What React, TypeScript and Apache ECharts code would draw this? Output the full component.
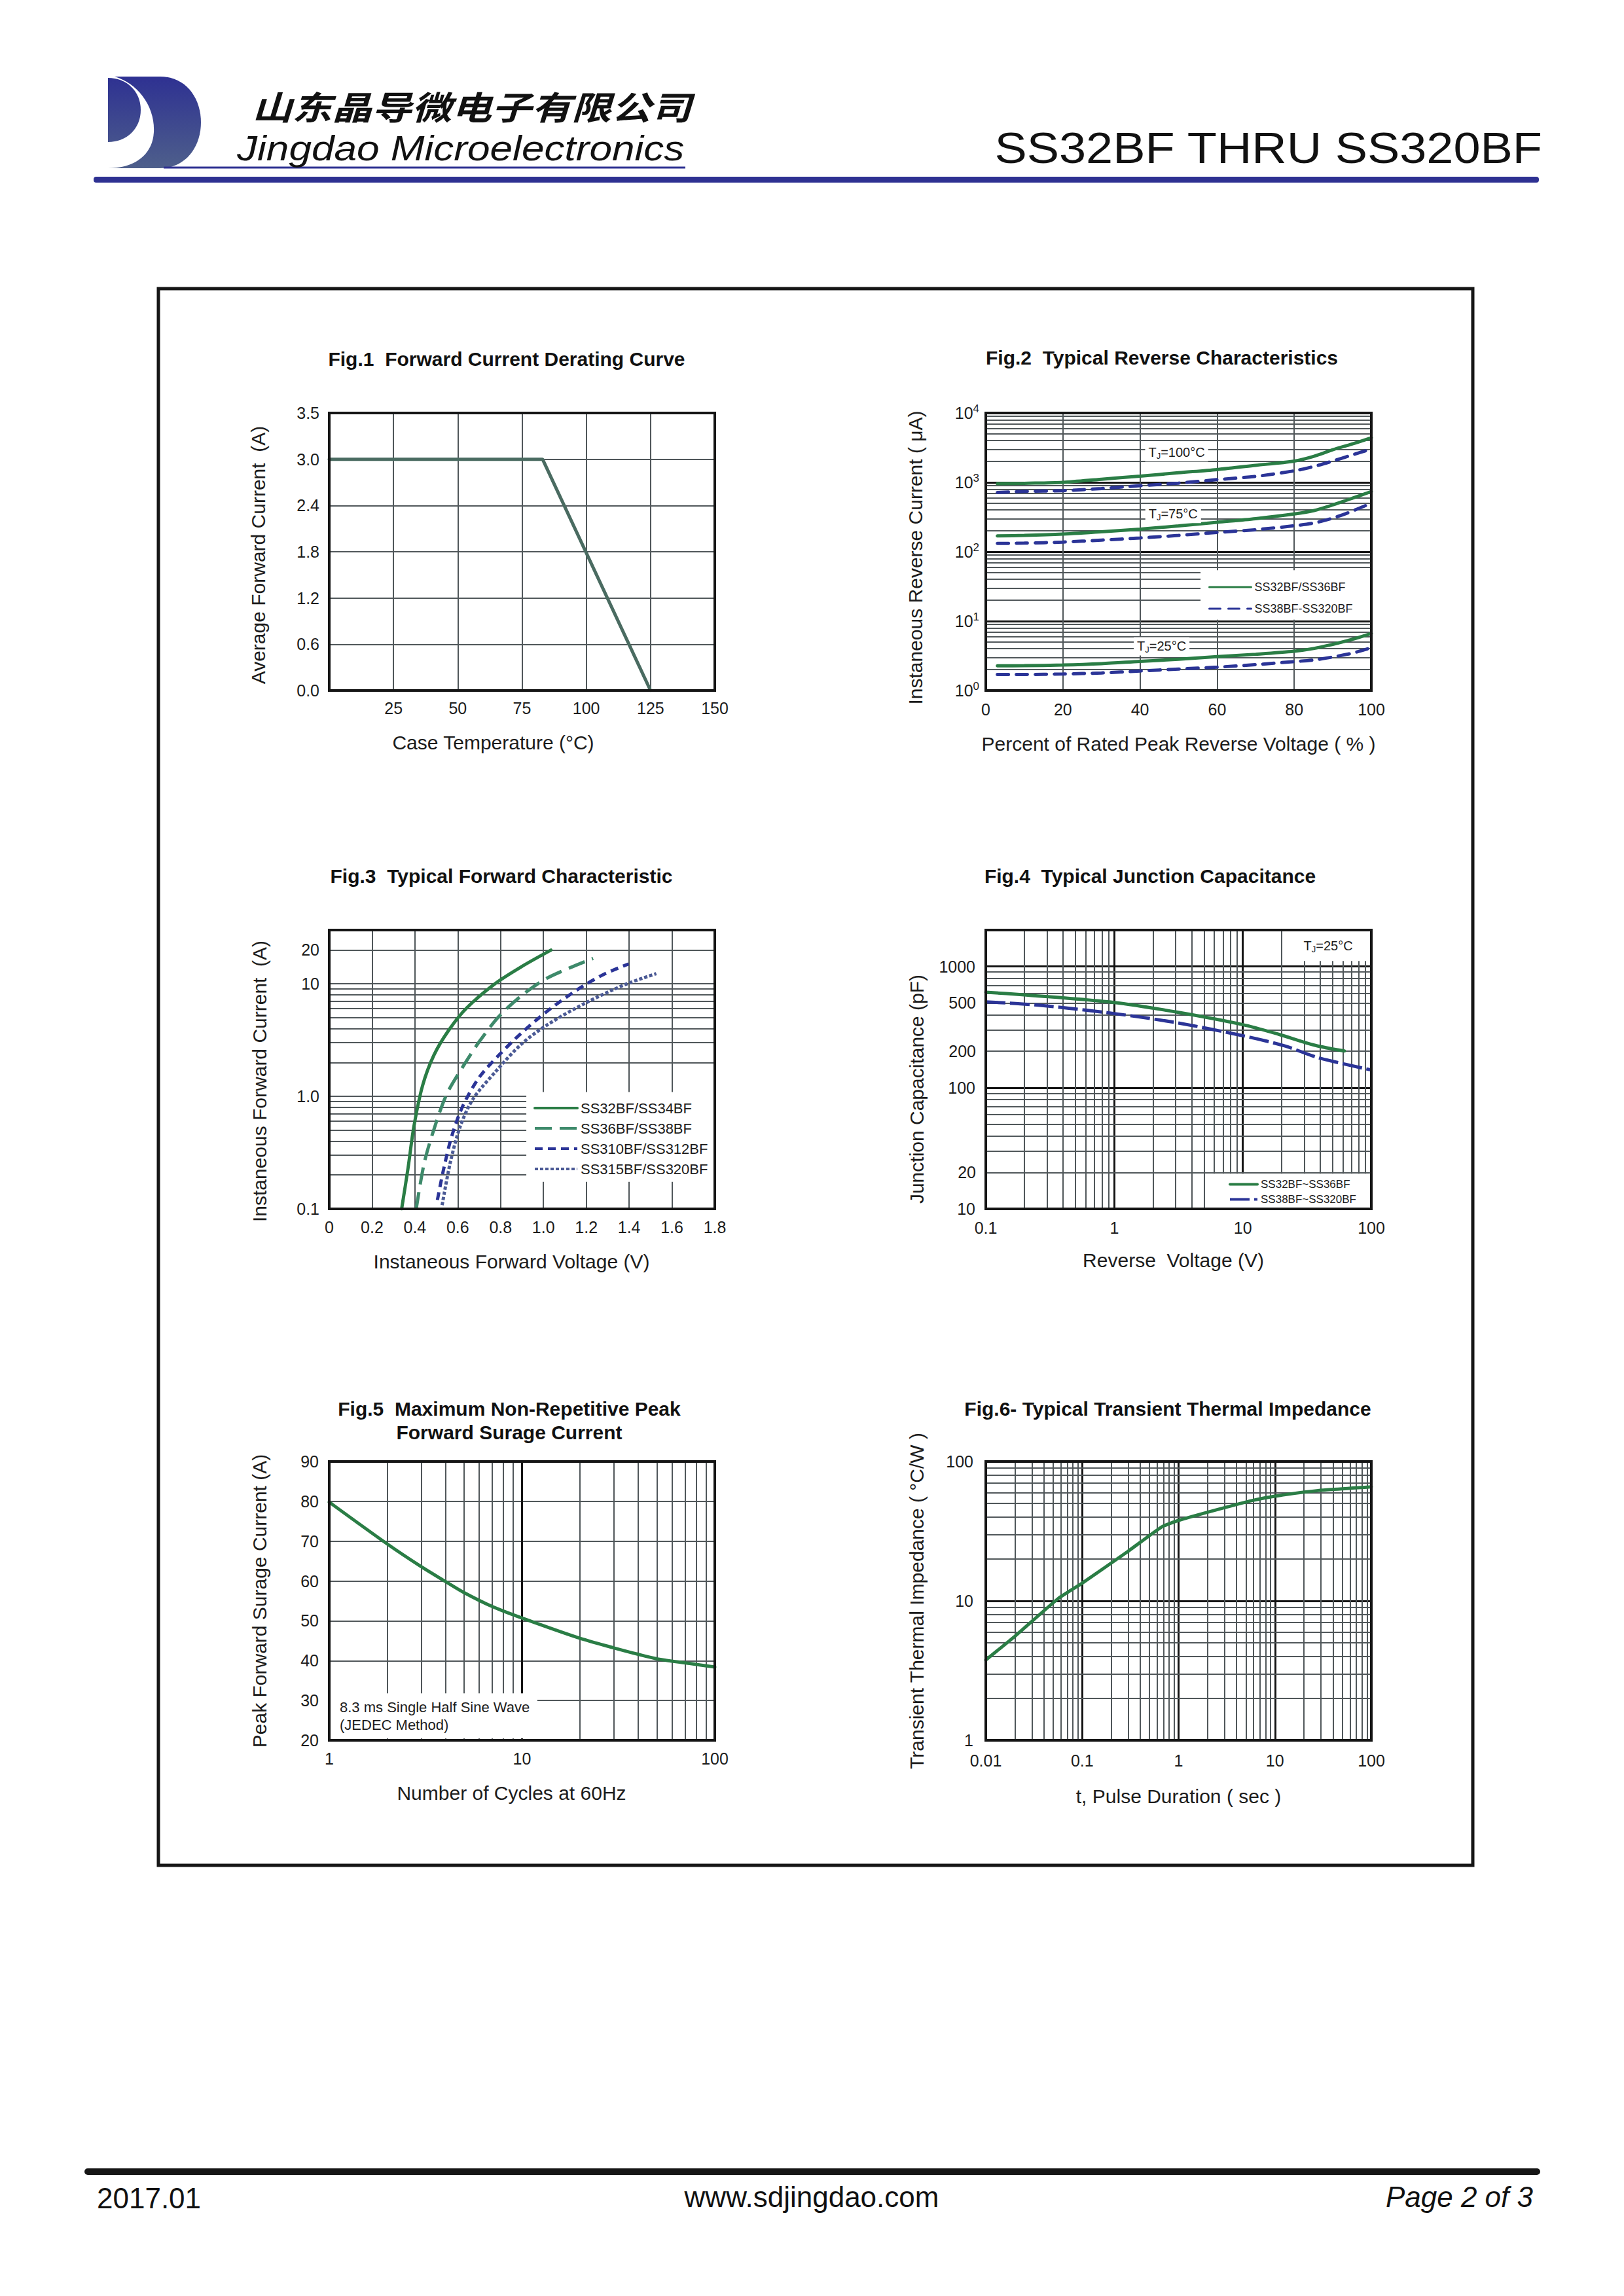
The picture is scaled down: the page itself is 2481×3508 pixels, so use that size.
import React, { useEffect, useRef } from 'react';
import * as echarts from 'echarts';

// ---------------- data ----------------
// Fig.1 Forward current derating
const fig1Temp = [0, 83, 125];
const fig1Current = [3.0, 3.0, 0.0];
const fig1YTickLabels = ['0.0', '0.6', '1.2', '1.8', '2.4', '3.0', '3.5'];

// Fig.2 Typical reverse characteristics (% of rated VR -> uA)
const fig2Pct = [3, 10, 20, 30, 40, 50, 60, 70, 80, 85, 90, 95, 100];
const fig2GreenTj100 = [955, 970, 1000, 1110, 1230, 1375, 1530, 1760, 2030, 2370, 2950, 3570, 4400];
const fig2BlueTj100 = [715, 740, 760, 815, 895, 975, 1095, 1220, 1465, 1690, 2030, 2480, 3030];
const fig2GreenTj75 = [169, 172, 180, 194, 212, 236, 266, 300, 350, 391, 473, 589, 738];
const fig2BlueTj75 = [132, 133, 138, 147, 158, 172, 190, 208, 237, 259, 305, 384, 503];
const fig2GreenTj25 = [2.27, 2.28, 2.33, 2.44, 2.63, 2.82, 3.07, 3.33, 3.68, 4.03, 4.62, 5.45, 6.65];
const fig2BlueTj25 = [1.7, 1.7, 1.73, 1.79, 1.91, 2.04, 2.17, 2.36, 2.61, 2.75, 3.04, 3.45, 4.14];
const fig2TjTemps = ['100°C', '75°C', '25°C'];
const fig2TjLabelX = [49.5, 48.6, 45.6];
const fig2TjLabelY = [2716, 350, 4.34];

// Fig.3 Typical forward characteristic (V -> A)
const fig3V32 = [0.338, 0.368, 0.395, 0.436, 0.489, 0.558, 0.641, 0.777, 0.898, 1.035];
const fig3I32 = [0.1, 0.231, 0.537, 1.25, 2.33, 3.87, 6.08, 10.1, 14.2, 19.9];
const fig3V36 = [0.406, 0.444, 0.497, 0.55, 0.626, 0.702, 0.793, 0.898, 1.02, 1.232];
const fig3I36 = [0.1, 0.258, 0.569, 1.06, 1.86, 3.09, 5.14, 7.85, 11.3, 16.8];
const fig3V310 = [0.505, 0.535, 0.573, 0.626, 0.702, 0.793, 0.898, 1.02, 1.156, 1.277, 1.398];
const fig3I310 = [0.12, 0.23, 0.45, 0.84, 1.49, 2.33, 3.66, 5.75, 8.79, 12.0, 15.0];
const fig3V315 = [0.527, 0.565, 0.611, 0.671, 0.777, 0.898, 1.02, 1.2, 1.382, 1.527];
const fig3I315 = [0.108, 0.258, 0.537, 0.945, 1.66, 2.92, 4.34, 6.8, 9.85, 12.3];
const fig3YExtraLabels = [20];

// Fig.4 Typical junction capacitance (V -> pF)
const fig4VGreen = [0.1, 0.191, 1.0, 3.05, 9.9, 19, 36.3, 61.7];
const fig4CGreen = [614, 585, 505, 421, 332, 276, 224, 201];
const fig4VBlue = [0.1, 0.257, 1.0, 3.05, 9.9, 21.3, 38.5, 100];
const fig4CBlue = [511, 480, 409, 344, 269, 221, 177, 140];
const fig4YExtraLabels = [20, 200, 500];

// Fig.5 Surge current (cycles -> A)
const fig5Cycles = [1, 2, 3, 4, 5, 7, 10, 20, 30, 40, 51, 74, 100];
const fig5Current = [79.8, 69.3, 63.6, 59.9, 57.1, 53.6, 50.7, 45.6, 43.2, 41.6, 40.4, 39.3, 38.4];

// Fig.6 Transient thermal impedance (sec -> °C/W)
const fig6Time = [0.01, 0.0203, 0.0564, 0.1, 0.294, 0.67, 1, 2.65, 5.8, 10, 28, 100];
const fig6Imp = [3.77, 5.62, 10.4, 13.4, 22.5, 34.0, 37.8, 45.6, 52.5, 56.4, 61.9, 65.8];

// ---------------- styles ----------------
const FONT = "'Liberation Sans', Arial, Helvetica, sans-serif";
const TXT = '#1c1c1c';
const GRAY = '#50575a';
const DARK = '#141414';
const GREEN = '#2a7d45';
const TEAL = '#3e8a6b';
const BLUE = '#2b3497';
const SLATE = '#4b5a95';
const FIG1C = '#4a6b61';
const NAVY = '#2e3192';

// logo paths
const logoOuter = 'M0 0 L80 0 C118 0 142 32 142 70 C142 108 118 140 80 140 L0 140 Z';
const logoCrescent = 'M10 0 C45 10 72 45 70 85 C68 120 40 140 0 140 L0 0 Z';
const logoDisk = 'M0 2 C28 2 50 22 50 51 C50 80 28 100 0 100 Z';
echarts.graphic.registerShape('jdLogoOuter', echarts.graphic.extendPath(logoOuter, {}));
echarts.graphic.registerShape('jdLogoCrescent', echarts.graphic.extendPath(logoCrescent, {}));
echarts.graphic.registerShape('jdLogoDisk', echarts.graphic.extendPath(logoDisk, {}));

const pairs = (xs: number[], ys: number[]) => xs.map((x, i) => [x, ys[i]]);

const decadeSteps = (e0: number, e1: number) => {
  const out: number[] = [];
  for (let e = e0; e < e1; e++) {
    for (let k = 2; k <= 9; k++) out.push(Number((k * Math.pow(10, e)).toPrecision(2)));
  }
  return out;
};

const fmtLog = (v: number) => {
  const e = Math.round(Math.log10(v));
  return e < 0 ? Math.pow(10, e).toFixed(-e) : String(Math.pow(10, e));
};
const isDecade = (v: number) => {
  const e = Math.log10(v);
  return Math.abs(e - Math.round(e)) < 1e-6;
};

const minorLines = (xs: number[], ys: number[], yLabels: number[] = []) => ({
  silent: true,
  z: 1,
  animation: false,
  symbol: ['none', 'none'],
  label: { show: false },
  lineStyle: { color: GRAY, width: 2, type: 'solid' },
  emphasis: { disabled: true },
  data: [
    ...xs.map((v) => ({ xAxis: v })),
    ...ys.map((v) =>
      yLabels.includes(v)
        ? {
            yAxis: v,
            label: {
              show: true,
              position: 'start',
              distance: 15,
              formatter: String(v),
              color: TXT,
              fontSize: 25,
              fontFamily: FONT,
            },
          }
        : { yAxis: v }
    ),
  ],
});

const whiteBoxes = (boxes: any[]) => ({
  silent: true,
  z: 2,
  itemStyle: { color: '#ffffff', borderWidth: 0 },
  label: { show: false },
  emphasis: { disabled: true },
  data: boxes,
});

const line = (
  name: string,
  gi: number,
  xs: number[],
  ys: number[],
  color: string,
  type: any,
  extra: any = {},
  cap: string = 'round'
) => ({
  name,
  type: 'line',
  xAxisIndex: gi,
  yAxisIndex: gi,
  data: pairs(xs, ys),
  symbol: 'none',
  showSymbol: false,
  color,
  smooth: 0.3,
  z: 3,
  lineStyle: { color, width: 5, type, cap },
  emphasis: { disabled: true },
  ...extra,
});

const axisBase = (gi: number) => ({
  gridIndex: gi,
  axisLine: { show: false },
  axisTick: { show: false },
  nameLocation: 'middle',
});
const lab = (margin: number, formatter?: any, extra: any = {}) => ({
  show: true,
  color: TXT,
  fontSize: 25,
  fontFamily: FONT,
  margin,
  formatter,
  ...extra,
});
const split = (color: string, width: number) => ({ show: true, lineStyle: { color, width, type: 'solid' } });
const nameStyle = (padding: number[] = [0, 0, 0, 0]) => ({
  fontSize: 30,
  color: TXT,
  fontFamily: FONT,
  padding,
});

const gridBox = (left: number, top: number, width: number, height: number) => ({
  left,
  top,
  width,
  height,
  show: true,
  borderColor: '#151515',
  borderWidth: 4,
  backgroundColor: 'transparent',
  z: 10,
  containLabel: false,
});

const legendBase = (
  left: number,
  top: number,
  itemWidth: number,
  itemHeight: number,
  itemGap: number,
  fontSize: number,
  lineWidth: number,
  data: string[]
) => ({
  show: true,
  orient: 'vertical',
  left,
  top,
  padding: 0,
  itemWidth,
  itemHeight,
  itemGap,
  selectedMode: false,
  data,
  itemStyle: { opacity: 0, borderWidth: 0 },
  lineStyle: { width: lineWidth },
  textStyle: { fontSize, color: TXT, fontFamily: FONT },
});

const tjRich = {
  t: { fontSize: 20, color: TXT, fontFamily: FONT, lineHeight: 24 },
  j: { fontSize: 13, color: TXT, fontFamily: FONT, verticalAlign: 'bottom', lineHeight: 24 },
};

function buildOption(): any {
  const logoGrad = new echarts.graphic.LinearGradient(
    0,
    0,
    0,
    140,
    [
      { offset: 0, color: '#2e3192' },
      { offset: 1, color: '#4e5f8b' },
    ],
    true
  );
  const titleStyle = (text: string) => ({
    text,
    fontSize: 30,
    fontWeight: 'bold',
    fontFamily: FONT,
    fill: '#111',
    align: 'center',
    verticalAlign: 'middle',
    lineHeight: 36,
  });

  return {
    animation: false,
    backgroundColor: '#ffffff',
    textStyle: { fontFamily: FONT },
    grid: [
      gridBox(503, 631, 589, 424),
      gridBox(1506, 631, 589, 424),
      gridBox(503, 1421, 589, 426),
      gridBox(1506, 1421, 589, 426),
      gridBox(503, 2233, 589, 426),
      gridBox(1506, 2233, 589, 426),
    ],
    xAxis: [
      {
        ...axisBase(0),
        type: 'value',
        min: 0,
        max: 150,
        interval: 25,
        axisLabel: lab(14, (v: number) => (v === 0 ? '' : String(v))),
        splitLine: split(GRAY, 2),
        name: 'Case Temperature (°C)',
        nameGap: 64,
        nameTextStyle: nameStyle([0, 88, 0, 0]),
      },
      {
        ...axisBase(1),
        type: 'value',
        min: 0,
        max: 100,
        interval: 20,
        axisLabel: lab(16),
        splitLine: split(GRAY, 2),
        name: 'Percent of Rated Peak Reverse Voltage ( % )',
        nameGap: 66,
        nameTextStyle: nameStyle(),
      },
      {
        ...axisBase(2),
        type: 'value',
        min: 0,
        max: 1.8,
        interval: 0.2,
        axisLabel: lab(15, (v: number) => (v === 0 ? '0' : v.toFixed(1))),
        splitLine: split(GRAY, 2),
        name: 'Instaneous Forward Voltage (V)',
        nameGap: 65,
        nameTextStyle: nameStyle([0, 32, 0, 0]),
      },
      {
        ...axisBase(3),
        type: 'log',
        logBase: 10,
        min: 0.1,
        max: 100,
        axisLabel: lab(16, fmtLog),
        splitLine: split(DARK, 3),
        name: 'Reverse  Voltage (V)',
        nameGap: 63,
        nameTextStyle: nameStyle([0, 16, 0, 0]),
      },
      {
        ...axisBase(4),
        type: 'log',
        logBase: 10,
        min: 1,
        max: 100,
        axisLabel: lab(15, fmtLog),
        splitLine: split(DARK, 3),
        name: 'Number of Cycles at 60Hz',
        nameGap: 65,
        nameTextStyle: nameStyle([0, 32, 0, 0]),
      },
      {
        ...axisBase(5),
        type: 'log',
        logBase: 10,
        min: 0.01,
        max: 100,
        axisLabel: lab(18, fmtLog),
        splitLine: split(DARK, 3),
        name: 't, Pulse Duration ( sec )',
        nameGap: 70,
        nameTextStyle: nameStyle(),
      },
    ],
    yAxis: [
      {
        ...axisBase(0),
        type: 'value',
        min: 0,
        max: 3.6,
        interval: 0.6,
        axisLabel: lab(15, (v: number, i: number) => fig1YTickLabels[i] ?? v.toFixed(1)),
        splitLine: split(GRAY, 2),
        name: 'Average Forward Current  (A)',
        nameGap: 94,
        nameTextStyle: nameStyle([0, 10, 0, 0]),
      },
      {
        ...axisBase(1),
        type: 'log',
        logBase: 10,
        min: 1,
        max: 10000,
        axisLabel: lab(10, (v: number) => `{b|10}{s|${Math.round(Math.log10(v))}}`, {
          rich: {
            b: { fontSize: 25, color: TXT, fontFamily: FONT, lineHeight: 30 },
            s: { fontSize: 17, color: TXT, fontFamily: FONT, verticalAlign: 'top', lineHeight: 18 },
          },
        }),
        splitLine: split(DARK, 3),
        name: 'Instaneous Reverse Current ( μA)',
        nameGap: 93,
        nameTextStyle: nameStyle([0, 18, 0, 0]),
      },
      {
        ...axisBase(2),
        type: 'log',
        logBase: 10,
        min: 0.1,
        max: 30,
        axisLabel: lab(15, (v: number) => {
          if (!isDecade(v)) return '';
          const e = Math.round(Math.log10(v));
          return e < 0 ? '0.1' : e === 0 ? '1.0' : String(Math.pow(10, e));
        }),
        splitLine: split(GRAY, 2),
        name: 'Instaneous Forward Current  (A)',
        nameGap: 92,
        nameTextStyle: nameStyle([0, 36, 0, 0]),
      },
      {
        ...axisBase(3),
        type: 'log',
        logBase: 10,
        min: 10,
        max: 2000,
        axisLabel: lab(16, (v: number) => (isDecade(v) ? String(Math.round(v)) : '')),
        splitLine: split(DARK, 3),
        name: 'Junction Capacitance (pF)',
        nameGap: 91,
        nameTextStyle: nameStyle([0, 60, 0, 0]),
      },
      {
        ...axisBase(4),
        type: 'value',
        min: 20,
        max: 90,
        interval: 10,
        axisLabel: lab(16),
        splitLine: split(GRAY, 2),
        name: 'Peak Forward Surage Current (A)',
        nameGap: 92,
        nameTextStyle: nameStyle(),
      },
      {
        ...axisBase(5),
        type: 'log',
        logBase: 10,
        min: 1,
        max: 100,
        axisLabel: lab(19, fmtLog),
        splitLine: split(DARK, 3),
        name: 'Transient Thermal Impedance ( °C/W )',
        nameGap: 91,
        nameTextStyle: nameStyle(),
      },
    ],
    legend: [
      legendBase(1846, 888, 64, 18, 15, 18, 3, ['SS32BF/SS36BF', 'SS38BF-SS320BF']),
      legendBase(815, 1682, 65, 22, 9, 22, 4, ['SS32BF/SS34BF', 'SS36BF/SS38BF', 'SS310BF/SS312BF', 'SS315BF/SS320BF']),
      legendBase(1877, 1801, 42, 18, 6, 17, 4, ['SS32BF~SS36BF', 'SS38BF~SS320BF']),
    ],
    series: [
      // Fig.1
      line('Derating', 0, fig1Temp, fig1Current, FIG1C, 'solid', { smooth: false }),
      // Fig.2
      line('SS32BF/SS36BF', 1, fig2Pct, fig2GreenTj100, GREEN, 'solid', {
        markLine: minorLines([], decadeSteps(0, 4)),
        markArea: whiteBoxes([[{ xAxis: 55.7, yAxis: 10.5 }, { xAxis: 100, yAxis: 54 }]]),
        markPoint: {
          silent: true,
          z: 5,
          symbol: 'rect',
          symbolSize: [1, 1],
          itemStyle: { color: 'rgba(0,0,0,0)' },
          label: {
            show: true,
            position: 'inside',
            backgroundColor: '#ffffff',
            padding: [2, 5],
            color: TXT,
            rich: tjRich,
          },
          data: fig2TjTemps.map((t, i) => ({
            coord: [fig2TjLabelX[i], fig2TjLabelY[i]],
            value: t,
            label: { formatter: `{t|T}{j|J}{t|=${t}}` },
          })),
        },
      }),
      line('SS32BF/SS36BF', 1, fig2Pct, fig2GreenTj75, GREEN, 'solid'),
      line('SS32BF/SS36BF', 1, fig2Pct, fig2GreenTj25, GREEN, 'solid'),
      line('SS38BF-SS320BF', 1, fig2Pct, fig2BlueTj100, BLUE, [17, 12]),
      line('SS38BF-SS320BF', 1, fig2Pct, fig2BlueTj75, BLUE, [17, 12]),
      line('SS38BF-SS320BF', 1, fig2Pct, fig2BlueTj25, BLUE, [17, 12]),
      // Fig.3
      line('SS32BF/SS34BF', 2, fig3V32, fig3I32, GREEN, 'solid', {
        markLine: minorLines([], [...decadeSteps(-1, 1), ...fig3YExtraLabels], fig3YExtraLabels),
        markArea: whiteBoxes([[{ xAxis: 0.92, yAxis: 0.174 }, { xAxis: 1.8, yAxis: 1.09 }]]),
      }),
      line('SS36BF/SS38BF', 2, fig3V36, fig3I36, TEAL, [26, 12], {}, 'butt'),
      line('SS310BF/SS312BF', 2, fig3V310, fig3I310, BLUE, [12, 8], {}, 'butt'),
      line('SS315BF/SS320BF', 2, fig3V315, fig3I315, SLATE, [5, 3], {}, 'butt'),
      // Fig.4
      line('SS32BF~SS36BF', 3, fig4VGreen, fig4CGreen, GREEN, 'solid', {
        markLine: minorLines(decadeSteps(-1, 2), decadeSteps(1, 3), fig4YExtraLabels),
        markArea: whiteBoxes([
          [
            {
              xAxis: 21.3,
              yAxis: 1112,
              label: {
                show: true,
                position: 'inside',
                formatter: '{t|T}{j|J}{t|=25°C}',
                rich: tjRich,
              },
            },
            { xAxis: 100, yAxis: 2000 },
          ],
          [{ xAxis: 5.2, yAxis: 10 }, { xAxis: 100, yAxis: 19.5 }],
        ]),
      }),
      line('SS38BF~SS320BF', 3, fig4VBlue, fig4CBlue, BLUE, [30, 7], {}, 'butt'),
      // Fig.5
      line('Surge', 4, fig5Cycles, fig5Current, GREEN, 'solid', {
        markLine: minorLines(decadeSteps(0, 2), []),
        markArea: whiteBoxes([
          [
            {
              xAxis: 1,
              yAxis: 20.5,
              label: {
                show: true,
                position: 'insideLeft',
                distance: 16,
                formatter: '8.3 ms Single Half Sine Wave\n(JEDEC Method)',
                fontSize: 22,
                lineHeight: 27,
                color: TXT,
                fontFamily: FONT,
                align: 'left',
              },
            },
            { xAxis: 12, yAxis: 31.8 },
          ],
        ]),
      }),
      // Fig.6
      line('Thermal', 5, fig6Time, fig6Imp, GREEN, 'solid', {
        smooth: 0.15,
        markLine: minorLines(decadeSteps(-2, 2), decadeSteps(0, 2)),
      }),
    ],
    graphic: {
      elements: [
        // logo
        { type: 'jdLogoOuter', x: 165, y: 117, z: 20, style: { fill: logoGrad } },
        { type: 'jdLogoCrescent', x: 165, y: 117, z: 21, style: { fill: '#ffffff' } },
        { type: 'jdLogoDisk', x: 165, y: 117, z: 22, style: { fill: logoGrad } },
        {
          type: 'line',
          z: 20,
          shape: { x1: 250, y1: 256, x2: 1047, y2: 256 },
          style: { stroke: NAVY, lineWidth: 3 },
        },
        {
          type: 'text',
          x: 385,
          y: 161,
          scaleX: 1.22,
          z: 20,
          style: {
            text: '山东晶导微电子有限公司',
            fontSize: 50,
            fontWeight: 'bold',
            fontStyle: 'italic',
            fontFamily: "'Noto Sans CJK SC', sans-serif",
            fill: '#111',
            align: 'left',
            verticalAlign: 'middle',
          },
        },
        {
          type: 'text',
          x: 362,
          y: 226,
          scaleX: 1.15,
          z: 20,
          style: {
            text: 'Jingdao Microelectronics',
            fontSize: 54,
            fontStyle: 'italic',
            fontFamily: FONT,
            fill: '#111',
            align: 'left',
            verticalAlign: 'middle',
          },
        },
        {
          type: 'text',
          x: 2356,
          y: 226,
          scaleX: 1.12,
          z: 20,
          style: {
            text: 'SS32BF THRU SS320BF',
            fontSize: 66,
            fontFamily: FONT,
            fill: '#111',
            align: 'right',
            verticalAlign: 'middle',
          },
        },
        {
          type: 'rect',
          z: 20,
          shape: { x: 143, y: 270, width: 2208, height: 9, r: 4 },
          style: { fill: NAVY },
        },
        // frame
        {
          type: 'rect',
          z: 20,
          shape: { x: 242, y: 441, width: 2008, height: 2409 },
          style: { fill: 'none', stroke: '#161616', lineWidth: 5 },
        },
        // figure titles
        { type: 'text', x: 774, y: 548, z: 20, style: titleStyle('Fig.1  Forward Current Derating Curve') },
        { type: 'text', x: 1775, y: 546, z: 20, style: titleStyle('Fig.2  Typical Reverse Characteristics') },
        { type: 'text', x: 766, y: 1338, z: 20, style: titleStyle('Fig.3  Typical Forward Characteristic') },
        { type: 'text', x: 1757, y: 1338, z: 20, style: titleStyle('Fig.4  Typical Junction Capacitance') },
        {
          type: 'text',
          x: 778,
          y: 2170,
          z: 20,
          style: titleStyle('Fig.5  Maximum Non-Repetitive Peak\nForward Surage Current'),
        },
        { type: 'text', x: 1784, y: 2152, z: 20, style: titleStyle('Fig.6- Typical Transient Thermal Impedance') },
        // footer
        {
          type: 'line',
          z: 20,
          shape: { x1: 134, y1: 3318, x2: 2348, y2: 3318 },
          style: { stroke: '#161616', lineWidth: 10, lineCap: 'round' },
        },
        {
          type: 'text',
          x: 148,
          y: 3358,
          z: 20,
          style: { text: '2017.01', fontSize: 44, fontFamily: FONT, fill: '#111', align: 'left', verticalAlign: 'middle' },
        },
        {
          type: 'text',
          x: 1240,
          y: 3356,
          z: 20,
          style: {
            text: 'www.sdjingdao.com',
            fontSize: 44,
            fontFamily: FONT,
            fill: '#111',
            align: 'center',
            verticalAlign: 'middle',
          },
        },
        {
          type: 'text',
          x: 2342,
          y: 3356,
          z: 20,
          style: {
            text: 'Page 2 of 3',
            fontSize: 44,
            fontStyle: 'italic',
            fontFamily: FONT,
            fill: '#111',
            align: 'right',
            verticalAlign: 'middle',
          },
        },
      ],
    },
  };
}

export default function App() {
  const ref = useRef<HTMLDivElement>(null);
  useEffect(() => {
    document.body.style.margin = '0';
    document.body.style.overflow = 'hidden';
    const chart = echarts.init(ref.current as HTMLDivElement, null, { renderer: 'svg' });
    chart.setOption(buildOption());
    return () => chart.dispose();
  }, []);
  return <div ref={ref} style={{ width: 2481, height: 3508, background: '#ffffff' }} />;
}
